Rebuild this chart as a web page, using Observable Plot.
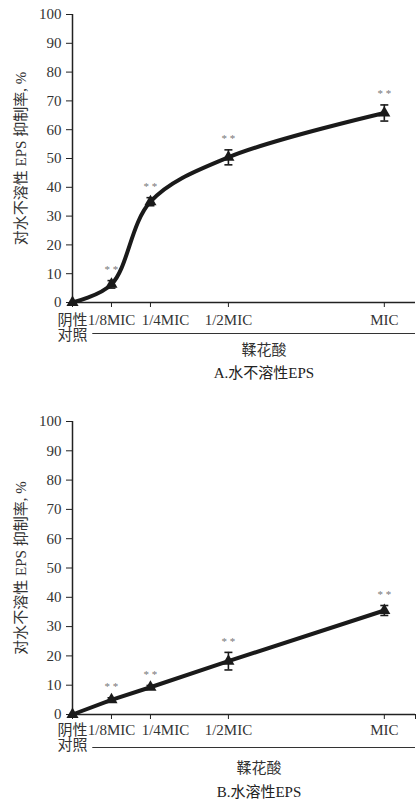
<!DOCTYPE html>
<html><head><meta charset="utf-8">
<script src="https://cdn.jsdelivr.net/npm/d3@7"></script>
<script src="https://cdn.jsdelivr.net/npm/@observablehq/plot@0.6"></script>
<style>body{margin:0;background:#fff} #c svg{display:block}</style>
</head><body><div id="c"></div>
<script>
// ---- data ----
const doses = [0, 0.125, 0.25, 0.5, 1];
const tickLabels = ["阴性\n对照", "1/8MIC", "1/4MIC", "1/2MIC", "MIC"];
const yTicks = [0, 10, 20, 30, 40, 50, 60, 70, 80, 90, 100];
const insolubleMean = [0, 6.3, 35.0, 50.4, 65.8];
const insolubleErr  = [0, 1.3, 1.4, 2.6, 2.8];
const solubleMean   = [0, 5.0, 9.3, 18.2, 35.5];
const solubleErr    = [0, 0.7, 0.6, 3.0, 1.7];
const significance  = ["", "**", "**", "**", "**"];
const xTitle = "鞣花酸";
const yTitle = "对水不溶性 EPS 抑制率, %";
const captions = ["A.水不溶性EPS", "B.水溶性EPS"];

const FONT = "'Liberation Serif', 'Noto Sans CJK SC', serif";
const INK = "#1a1a1a";
const capSymbol = {draw(ctx, size) { const r = Math.sqrt(size / Math.PI); ctx.moveTo(-r, 0); ctx.lineTo(r, 0); }};

function chart(mean, err, caption, o) {
  const rows = doses.map((d, i) => ({x: d, y: mean[i], e: err[i], s: significance[i], label: tickLabels[i]}));
  const withErr = rows.filter(d => d.e > 0);
  const lab = rows.filter(d => d.label !== "1/4MIC");
  const labQ = rows.filter(d => d.label === "1/4MIC");
  return Plot.plot({
    width: 417, height: 400,
    marginLeft: 72, marginRight: 2, marginTop: o.mt, marginBottom: o.mb,
    style: {fontFamily: FONT, fontSize: "15px", color: "#333", background: "#fff"},
    x: {domain: [0, 1.1], axis: null},
    y: {domain: [0, 100], axis: null},
    marks: [
      Plot.axisY({ticks: yTicks, tickSize: 6, tickPadding: 5, label: null, fontSize: 15, stroke: "#222"}),
      Plot.axisX({ticks: o.xticks, tickSize: 5, tickFormat: () => "", label: null, stroke: "#222"}),
      Plot.ruleY([0], {stroke: "#222", strokeWidth: 1.5}),
      Plot.ruleX([0], {stroke: "#222", strokeWidth: 1.5}),
      Plot.text(lab, {x: "x", text: "label", frameAnchor: "bottom", textAnchor: "middle", lineAnchor: "top", dy: o.tickDy, lineHeight: 1, fill: "#333"}),
      Plot.text(labQ, {x: "x", text: "label", frameAnchor: "bottom", textAnchor: "middle", lineAnchor: "top", dy: o.tickDy, dx: 15, fill: "#333"}),
      Plot.ruleY([0], {x1: 0.065, x2: 1.1, dy: o.ulDy, stroke: "#333", strokeWidth: 1.2}),
      Plot.text([xTitle], {frameAnchor: "bottom", textAnchor: "middle", dy: o.titleDy, dx: o.tdx, lineAnchor: "middle", fill: "#333"}),
      Plot.text([caption], {frameAnchor: "bottom", textAnchor: "middle", dy: o.capDy, dx: o.tdx, lineAnchor: "middle", fill: "#222"}),
      Plot.text([yTitle], {frameAnchor: "left", textAnchor: "middle", dx: -51, rotate: -90, lineAnchor: "middle", fill: "#333"}),
      Plot.line(rows, {x: "x", y: "y", curve: o.curve, stroke: INK, strokeWidth: 4}),
      Plot.ruleX(withErr, {x: "x", y1: d => d.y - d.e, y2: d => d.y + d.e, stroke: INK, strokeWidth: 1.6}),
      Plot.dot(withErr, {x: "x", y: d => d.y + d.e, symbol: capSymbol, r: 4, stroke: INK, strokeWidth: 1.6}),
      Plot.dot(withErr, {x: "x", y: d => d.y - d.e, symbol: capSymbol, r: 4, stroke: INK, strokeWidth: 1.6}),
      Plot.dot(rows, {x: "x", y: "y", symbol: "triangle", r: 4.5, fill: INK}),
      Plot.text(rows.filter(d => d.s), {x: "x", y: d => d.y + d.e, text: d => "* *", dy: -11, fontSize: 11, fill: "#777"})
    ]
  });
}

const c = document.getElementById("c");
c.append(chart(insolubleMean, insolubleErr, captions[0],
  {mt: 14, mb: 98, curve: "catmull-rom", xticks: doses, tickDy: 12, ulDy: 31, titleDy: 48, capDy: 71, tdx: 20}));
c.append(chart(solubleMean, solubleErr, captions[1],
  {mt: 21, mb: 86, curve: "linear", xticks: [...doses, 1.1], tickDy: 10, ulDy: 33, titleDy: 54, capDy: 78, tdx: 15}));
</script>
</body></html>
